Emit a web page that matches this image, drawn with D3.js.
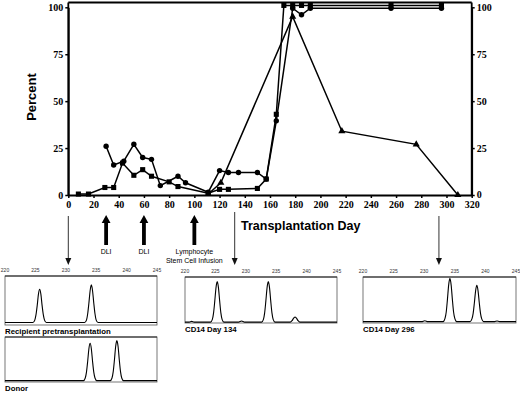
<!DOCTYPE html>
<html>
<head>
<meta charset="utf-8">
<script src="https://cdn.jsdelivr.net/npm/d3@7"></script>
<style>
  body { margin: 0; background: #fff; }
  svg { display: block; }
</style>
</head>
<body>
<svg id="chart" width="520" height="394"></svg>
<script>
// percent of cells
var circleDays = [30, 36, 44, 52, 59, 66, 73, 87, 93, 111, 120, 127, 135, 150, 157, 165, 178, 185, 192, 256, 296];
var circlePct  = [26, 16, 18, 27, 20, 19, 5, 10, 6.5, 1.5, 13, 12, 12, 12, 8.5, 39.5, 99.5, 96, 99.5, 99.5, 99.5];
var squareDays = [8, 16, 29, 36, 43, 52, 59, 66, 80, 87, 111, 120, 127, 150, 157, 165, 171, 178, 185, 192, 256, 296];
var squarePct  = [0.5, 0.5, 4, 4, 17, 10.5, 13.5, 10, 7, 4.5, 1, 3, 3, 3.5, 8.5, 43, 101, 101, 101, 101, 101, 101];
var triDays = [111, 121, 178, 217, 276, 309];
var triPct  = [0.5, 6.5, 95, 34, 27, 0];

var yTicks = [0, 25, 50, 75, 100];
var xTicks = d3.range(0, 321, 20);

var infusionDays = [30, 60, 100];
var infusionLabels = [["DLI"], ["DLI"], ["Lymphocyte", "Stem Cell Infusion"]];
var sampleDays = [0, 132, 294];

// electropherogram traces: [fragment size, relative signal]
var traceRecipient = [[220,0.05],[224.6,0.05],[224.9,0.10],[225.1,0.21],[225.3,0.40],[225.5,0.63],[225.7,0.73],[225.9,0.63],[226.1,0.40],[226.3,0.21],[226.5,0.10],[226.8,0.05],
  [233.1,0.05],[233.4,0.10],[233.6,0.23],[233.8,0.45],[234.0,0.70],[234.2,0.82],[234.4,0.70],[234.6,0.45],[234.8,0.23],[235.0,0.10],[235.3,0.05],[245,0.05]];
var traceDonor = [[220,0.03],[232.9,0.03],[233.2,0.09],[233.4,0.22],[233.6,0.46],[233.8,0.74],[234.0,0.86],[234.2,0.74],[234.4,0.46],[234.6,0.22],[234.8,0.09],[235.1,0.03],
  [237.3,0.03],[237.6,0.09],[237.8,0.23],[238.0,0.49],[238.2,0.79],[238.4,0.92],[238.6,0.79],[238.8,0.49],[239.0,0.23],[239.2,0.09],[239.5,0.03],[245,0.03]];
var traceDay134 = [[220,0.02],[220.7,0.02],[221.1,0.035],[221.5,0.02],
  [224.2,0.02],[224.5,0.08],[224.7,0.22],[224.9,0.48],[225.1,0.77],[225.3,0.9],[225.5,0.77],[225.7,0.48],[225.9,0.22],[226.1,0.08],[226.4,0.02],
  [228.8,0.02],[229.3,0.045],[229.8,0.02],
  [232.6,0.02],[232.9,0.08],[233.1,0.22],[233.3,0.48],[233.5,0.77],[233.7,0.9],[233.9,0.77],[234.1,0.48],[234.3,0.22],[234.5,0.08],[234.8,0.02],
  [237.3,0.02],[237.6,0.05],[237.9,0.11],[238.1,0.13],[238.3,0.11],[238.6,0.05],[238.9,0.02],[245,0.02]];
var traceDay296 = [[220,0.03],[229.6,0.03],[230.1,0.05],[230.6,0.03],
  [233.1,0.03],[233.4,0.10],[233.6,0.24],[233.8,0.52],[234.0,0.83],[234.2,0.97],[234.4,0.83],[234.6,0.52],[234.8,0.24],[235.0,0.10],[235.3,0.03],
  [237.5,0.03],[237.8,0.09],[238.0,0.21],[238.2,0.44],[238.4,0.70],[238.6,0.82],[238.8,0.70],[239.0,0.44],[239.2,0.21],[239.4,0.09],[239.7,0.03],
  [241.5,0.03],[241.9,0.045],[242.3,0.03],[245,0.03]];
var sizeTicks = [220, 225, 230, 235, 240, 245];

var svg = d3.select("#chart");
svg.append("rect").attr("width", 520).attr("height", 394).attr("fill", "#fff");

var x = d3.scaleLinear().domain([0, 320]).range([68.3, 471.7]);
var y = d3.scaleLinear().domain([0, 100]).range([195, 7.3]);

// frame
svg.append("line")
	.attr("x1", x(0)).attr("x2", x(320))
	.attr("y1", 2.5).attr("y2", 2.5)
	.attr("stroke", "#000").attr("stroke-width", 1.8);
svg.append("line").attr("x1", x(0)).attr("x2", x(0)).attr("y1", 2.5).attr("y2", y(0))
	.attr("stroke", "#000").attr("stroke-width", 1.8);
svg.append("line").attr("x1", x(320)).attr("x2", x(320)).attr("y1", 2.5).attr("y2", y(0))
	.attr("stroke", "#000").attr("stroke-width", 1.8);

var gl = svg.append("g").attr("transform", "translate(" + x(0) + ",0)")
	.call(d3.axisLeft(y).tickValues(yTicks).tickSize(3).tickSizeOuter(0).tickPadding(2));
var gr = svg.append("g").attr("transform", "translate(" + x(320) + ",0)")
	.call(d3.axisRight(y).tickValues(yTicks).tickSize(3).tickSizeOuter(0).tickPadding(2));
var gb = svg.append("g").attr("transform", "translate(0," + y(0) + ")")
	.call(d3.axisBottom(x).tickValues(xTicks).tickSize(3).tickSizeOuter(0).tickPadding(3));
[gl, gr, gb].forEach(g => {
	g.attr("font-family", "'Liberation Serif', 'Times New Roman', serif")
		.attr("font-weight", "bold")
		.attr("font-size", 10);
	g.select(".domain").attr("stroke-width", 1.8);
	g.selectAll(".tick line").attr("stroke-width", 1.5);
	g.selectAll(".tick text").attr("fill", "#000");
});
// right-axis 0 sits just above the 320 label
gr.selectAll(".tick text").filter(d => d === 0).attr("dy", "0.2em");

var line = d3.line().x(d => x(d[0])).y(d => y(d[1]));
function series(days, pct) { return days.map((d, i) => [d, pct[i]]); }
var circles = series(circleDays, circlePct);
var squares = series(squareDays, squarePct);
var tris = series(triDays, triPct);

[tris, squares, circles].forEach(s => {
	svg.append("path").datum(s).attr("d", line)
		.attr("fill", "none").attr("stroke", "#000").attr("stroke-width", 1.5);
});

svg.selectAll(".circ").data(circles).enter().append("circle")
	.attr("cx", d => x(d[0])).attr("cy", d => y(d[1])).attr("r", 2.7).attr("fill", "#000");
svg.selectAll(".sq").data(squares).enter().append("path")
	.attr("d", d3.symbol(d3.symbolSquare, 26))
	.attr("transform", d => "translate(" + x(d[0]) + "," + y(d[1]) + ")").attr("fill", "#000");
svg.selectAll(".tri").data(tris).enter().append("path")
	.attr("d", d3.symbol(d3.symbolTriangle, 22))
	.attr("transform", d => "translate(" + x(d[0]) + "," + y(d[1]) + ")").attr("fill", "#000");

// axis titles
svg.append("text")
	.attr("transform", "translate(36,97) rotate(-90)")
	.attr("text-anchor", "middle")
	.style("font-family", "Liberation Sans, Arial, sans-serif")
	.style("font-weight", "bold").style("font-size", "13px")
	.text("Percent");
svg.append("text")
	.attr("x", 241).attr("y", 229.5)
	.style("font-family", "Liberation Sans, Arial, sans-serif")
	.style("font-weight", "bold").style("font-size", "12.5px")
	.text("Transplantation Day");

// thick infusion arrows
infusionDays.forEach((d, i) => {
	var cx = x(d);
	svg.append("path")
		.attr("d", "M" + (cx - 1.9) + ",245 L" + (cx - 1.9) + ",223 L" + (cx - 4.4) + ",223 L" + cx + ",215 L" + (cx + 4.4) + ",223 L" + (cx + 1.9) + ",223 L" + (cx + 1.9) + ",245 Z")
		.attr("fill", "#000");
	infusionLabels[i].forEach((t, k) => {
		svg.append("text")
			.attr("x", cx).attr("y", 253.5 + k * 9.5)
			.attr("text-anchor", "middle")
			.attr("fill", "#000")
			.style("font-family", "Liberation Sans, Arial, sans-serif")
			.style("font-size", "7px")
			.text(t);
	});
});

// thin sample arrows
var arrowTop = [216, 212, 216];
sampleDays.forEach((d, i) => {
	var cx = x(d);
	svg.append("line").attr("x1", cx).attr("x2", cx).attr("y1", arrowTop[i]).attr("y2", 259)
		.attr("stroke", "#333").attr("stroke-width", 1);
	svg.append("path")
		.attr("d", "M" + (cx - 3) + ",258 L" + (cx + 3) + ",258 L" + cx + ",265 Z")
		.attr("fill", "#111");
});

// electropherogram panels
var panels = [
	{ x0: 5, x1: 157, y0: 276, y1: 325, trace: traceRecipient, label: "Recipient pretransplantation", ticks: true },
	{ x0: 5, x1: 157, y0: 337, y1: 382, trace: traceDonor, label: "Donor", ticks: false },
	{ x0: 185, x1: 337, y0: 277, y1: 323, trace: traceDay134, label: "CD14 Day 134", ticks: true },
	{ x0: 363, x1: 516, y0: 277, y1: 323, trace: traceDay296, label: "CD14 Day 296", ticks: true }
];

panels.forEach(p => {
	var px = d3.scaleLinear().domain([220, 245]).range([p.x0, p.x1]);
	var py = d3.scaleLinear().domain([0, 1]).range([p.y1, p.y0]);
	var g = svg.append("g");
	g.append("rect")
		.attr("x", p.x0).attr("y", p.y0)
		.attr("width", p.x1 - p.x0).attr("height", p.y1 - p.y0)
		.attr("fill", "none").attr("stroke", "#555").attr("stroke-width", 0.8);
	g.append("line").attr("x1", p.x0).attr("x2", p.x1).attr("y1", p.y0).attr("y2", p.y0)
		.attr("stroke", "#222").attr("stroke-width", 1.2);
	if (p.ticks) {
		g.selectAll(".st").data(sizeTicks).enter().append("text")
			.attr("x", d => px(d)).attr("y", p.y0 - 4)
			.attr("text-anchor", "middle")
			.style("font-family", "Liberation Sans, Arial, sans-serif")
			.style("font-size", "5px").attr("fill", "#333")
			.text(d => d);
	}
	g.append("path").datum(p.trace)
		.attr("d", d3.line().x(d => px(d[0])).y(d => py(d[1])).curve(d3.curveMonotoneX))
		.attr("fill", "none").attr("stroke", "#000").attr("stroke-width", 1.1);
	g.append("text")
		.attr("x", p.x0).attr("y", p.y1 + 8.5)
		.style("font-family", "Liberation Sans, Arial, sans-serif")
		.style("font-weight", "bold").style("font-size", "7.8px")
		.text(p.label);
});
</script>
</body>
</html>
